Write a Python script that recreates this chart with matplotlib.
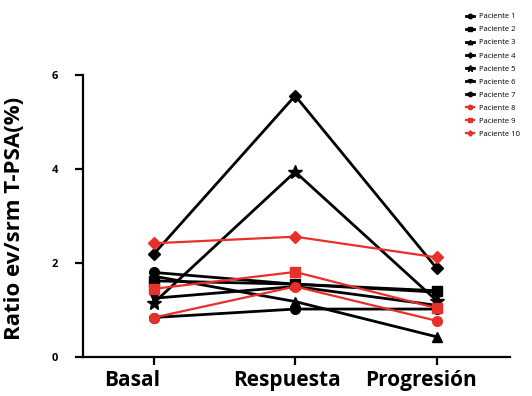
import matplotlib
matplotlib.use("Agg")
import matplotlib.pyplot as plt
from matplotlib.transforms import blended_transform_factory

plt.rcParams['font.family'] = ['Open Sans', 'DejaVu Sans']

categories = ["Basal", "Respuesta", "Progresión"]
patients = ["Paciente 1", "Paciente 2", "Paciente 3", "Paciente 4", "Paciente 5",
            "Paciente 6", "Paciente 7", "Paciente 8", "Paciente 9", "Paciente 10"]
values = [
    [1.80, 1.55, 1.38],
    [1.62, 1.55, 1.41],
    [1.72, 1.18, 0.43],
    [2.19, 5.56, 1.89],
    [1.15, 3.94, 1.20],
    [1.25, 1.50, 1.10],
    [0.84, 1.02, 1.02],
    [0.84, 1.50, 0.77],
    [1.45, 1.81, 1.04],
    [2.42, 2.56, 2.12],
]
colors = ["black"] * 7 + ["#e8302a"] * 3
markers = ["o", "s", "^", "D", "*", "v", "o", "o", "s", "D"]
msizes = [7, 7, 7, 6, 10, 6, 7, 7, 7, 6]
lws = [2.0] * 7 + [1.6] * 3

fig = plt.figure(figsize=(5.32, 3.96), dpi=100)
ax = fig.add_axes([0.156, 0.0985, 0.803, 0.712])

x = list(range(len(categories)))
handles = []
for name, v, c, m, ms, lw in zip(patients, values, colors, markers, msizes, lws):
    h, = ax.plot(x, v, color=c, marker=m, markersize=ms, linewidth=lw, label=name)
    handles.append(h)

ax.set_xlim(-0.5, 2.52)
ax.set_ylim(0, 6)
ax.set_yticks([0, 2, 4, 6])
ax.set_xticks(x)
ax.set_xticklabels([])
# category labels (slightly shifted left as in the original)
label_shift = [-0.15, -0.056, -0.113]
trans = blended_transform_factory(ax.transData, ax.transAxes)
for xi, cat, sh in zip(x, categories, label_shift):
    ax.text(xi + sh, -0.045, cat, transform=trans, ha='center', va='top',
            fontsize=15, fontweight='bold')
for lab in ax.get_yticklabels():
    lab.set_fontweight('bold')
    lab.set_fontsize(8)
ax.set_ylabel("Ratio ev/srm T-PSA(%)", fontsize=16, fontweight='bold')
ax.yaxis.set_label_coords(-0.136, 0.49)
for s in ["top", "right"]:
    ax.spines[s].set_visible(False)
for s in ["left", "bottom"]:
    ax.spines[s].set_linewidth(1.6)
ax.tick_params(axis='both', width=1.6, length=6, direction='out')
ax.tick_params(axis='y', pad=12)

leg = fig.legend(handles=handles, loc='upper left', bbox_to_anchor=(0.87, 0.975),
                 fontsize=5.5, frameon=False, handlelength=1.1, markerscale=0.45,
                 labelspacing=0.75, handletextpad=0.6, borderaxespad=0)

fig.savefig("out.png", dpi=100, facecolor='white')
